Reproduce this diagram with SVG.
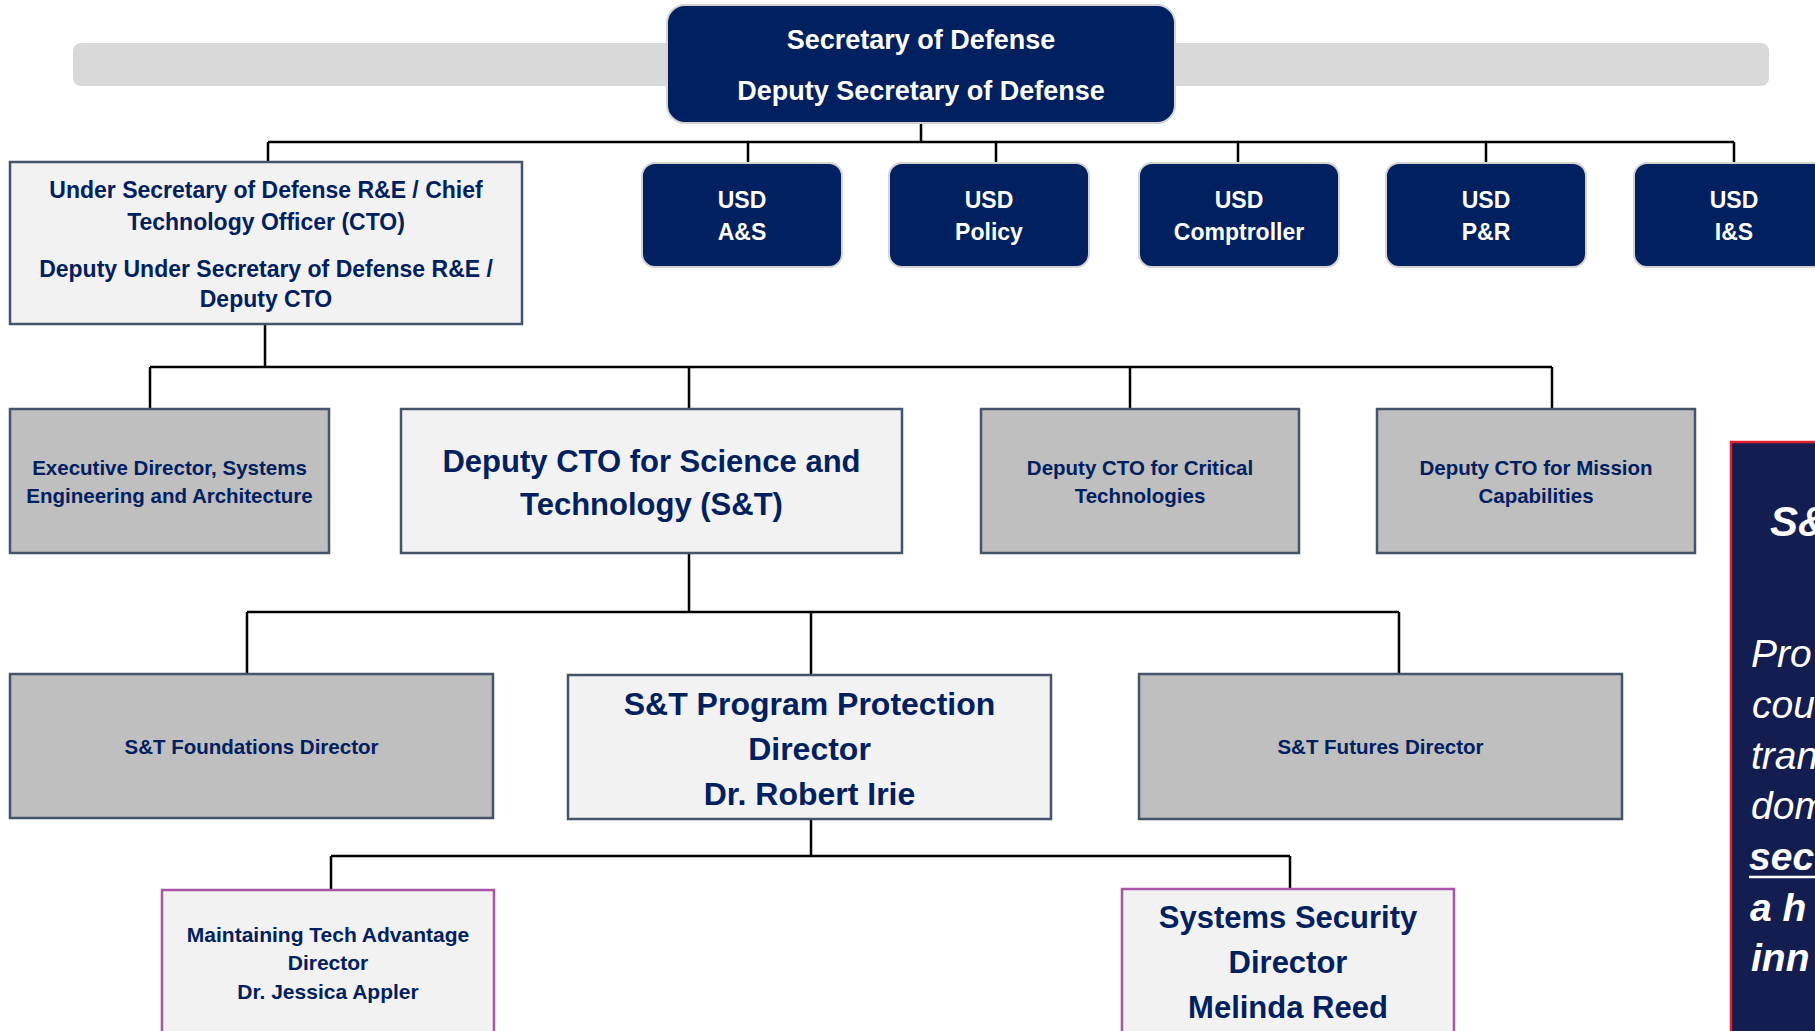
<svg xmlns="http://www.w3.org/2000/svg" width="1815" height="1031" viewBox="0 0 1815 1031">
<style>
text{font-family:"Liberation Sans",Arial,sans-serif;font-weight:bold;text-anchor:middle}
.w{fill:#ffffff}
.n{fill:#002060}
.dk{fill:#002060;stroke:#d4d4d4;stroke-width:2}
.lt{fill:#f2f2f2;stroke:#44546a;stroke-width:2.5}
.gy{fill:#bfbfbf;stroke:#44546a;stroke-width:2.5}
.pu{fill:#f2f2f2;stroke:#a855a8;stroke-width:2.5}
.s20{font-size:20.5px}
.s23{font-size:23px}
.s27{font-size:27px}
.s31{font-size:31px}
.p{fill:#ffffff;font-style:italic;text-anchor:start;font-size:39px;font-weight:normal}
.pb{font-weight:bold}
.ph{fill:#ffffff;font-style:italic;text-anchor:start;font-size:42px;font-weight:bold}
</style>
<rect x="73" y="43" width="1696" height="43" rx="8" fill="#d9d9d9"/>
<g id="connectors" fill="none" stroke="#000000" stroke-width="2.5">
<path d="M921,123V142M268,142H1734M268,142V162M748,142V163M996,142V163M1238,142V163M1486,142V163M1734,142V163"/>
<path d="M265,324V367M150,367H1552M150,367V409M689,367V409M1130,367V409M1552,367V409"/>
<path d="M689,553V612M247,612H1399M247,612V674M811,612V675M1399,612V674"/>
<path d="M811,819V856M331,856H1290M331,856V890M1290,856V889"/>
</g>
<g id="secdef"><rect class="dk" x="667" y="5" width="508" height="118" rx="18"/>
<text class="w s27" x="921" y="49">Secretary of Defense</text>
<text class="w s27" x="921" y="100">Deputy Secretary of Defense</text></g>
<g id="usdre"><rect class="lt" x="10" y="162" width="512" height="162"/>
<text class="n s23" x="266" y="198">Under Secretary of Defense R&amp;E / Chief</text>
<text class="n s23" x="266" y="230">Technology Officer (CTO)</text>
<text class="n s23" x="266" y="277">Deputy Under Secretary of Defense R&amp;E /</text>
<text class="n s23" x="266" y="307">Deputy CTO</text></g>
<g id="usdas"><rect class="dk" x="642" y="163" width="200" height="104" rx="13"/>
<text class="w s23" x="742" y="208">USD</text><text class="w s23" x="742" y="240">A&amp;S</text></g>
<g id="usdpolicy"><rect class="dk" x="889" y="163" width="200" height="104" rx="13"/>
<text class="w s23" x="989" y="208">USD</text><text class="w s23" x="989" y="240">Policy</text></g>
<g id="usdcomp"><rect class="dk" x="1139" y="163" width="200" height="104" rx="13"/>
<text class="w s23" x="1239" y="208">USD</text><text class="w s23" x="1239" y="240">Comptroller</text></g>
<g id="usdpr"><rect class="dk" x="1386" y="163" width="200" height="104" rx="13"/>
<text class="w s23" x="1486" y="208">USD</text><text class="w s23" x="1486" y="240">P&amp;R</text></g>
<g id="usdis"><rect class="dk" x="1634" y="163" width="200" height="104" rx="13"/>
<text class="w s23" x="1734" y="208">USD</text><text class="w s23" x="1734" y="240">I&amp;S</text></g>
<g id="execdir"><rect class="gy" x="10" y="409" width="319" height="144"/>
<text class="n s20" x="169.5" y="475">Executive Director, Systems</text>
<text class="n s20" x="169.5" y="503">Engineering and Architecture</text></g>
<g id="dctost"><rect class="lt" x="401" y="409" width="501" height="144"/>
<text class="n s31" x="651.5" y="472">Deputy CTO for Science and</text>
<text class="n s31" x="651.5" y="515">Technology (S&amp;T)</text></g>
<g id="dctocrit"><rect class="gy" x="981" y="409" width="318" height="144"/>
<text class="n s20" x="1140" y="475">Deputy CTO for Critical</text>
<text class="n s20" x="1140" y="503">Technologies</text></g>
<g id="dctomission"><rect class="gy" x="1377" y="409" width="318" height="144"/>
<text class="n s20" x="1536" y="475">Deputy CTO for Mission</text>
<text class="n s20" x="1536" y="503">Capabilities</text></g>
<g id="foundations"><rect class="gy" x="10" y="674" width="483" height="144"/>
<text class="n s20" x="251.5" y="754">S&amp;T Foundations Director</text></g>
<g id="progprot"><rect class="lt" x="568" y="675" width="483" height="144"/>
<text class="n" font-size="32" x="809.5" y="715">S&amp;T Program Protection</text>
<text class="n" font-size="32" x="809.5" y="760">Director</text>
<text class="n" font-size="32" x="809.5" y="805">Dr. Robert Irie</text></g>
<g id="futures"><rect class="gy" x="1139" y="674" width="483" height="145"/>
<text class="n s20" x="1380.5" y="754">S&amp;T Futures Director</text></g>
<g id="mta"><rect class="pu" x="162" y="890" width="332" height="160"/>
<text class="n" font-size="21" x="328" y="942">Maintaining Tech Advantage</text>
<text class="n" font-size="21" x="328" y="970">Director</text>
<text class="n" font-size="21" x="328" y="999">Dr. Jessica Appler</text></g>
<g id="syssec"><rect class="pu" x="1122" y="889" width="332" height="160"/>
<text class="n" font-size="31" x="1288" y="928">Systems Security</text>
<text class="n" font-size="31" x="1288" y="973">Director</text>
<text class="n" font-size="31" x="1288" y="1018">Melinda Reed</text></g>
<g id="panel"><rect x="1731" y="442" width="200" height="700" fill="#141d4f" stroke="#e0202e" stroke-width="2.5"/>
<text class="ph" x="1770" y="536">S&amp;</text>
<text class="p" x="1751" y="667">Pro</text>
<text class="p" x="1752" y="718">cou</text>
<text class="p" x="1751" y="769">tran</text>
<text class="p" x="1751" y="819">dom</text>
<text class="p pb" x="1749" y="870">sec</text>
<line x1="1749" y1="877" x2="1815" y2="877" stroke="#ffffff" stroke-width="2.5"/>
<text class="p pb" x="1750" y="921">a h</text>
<text class="p pb" x="1751" y="971">inn</text></g>
</svg>
